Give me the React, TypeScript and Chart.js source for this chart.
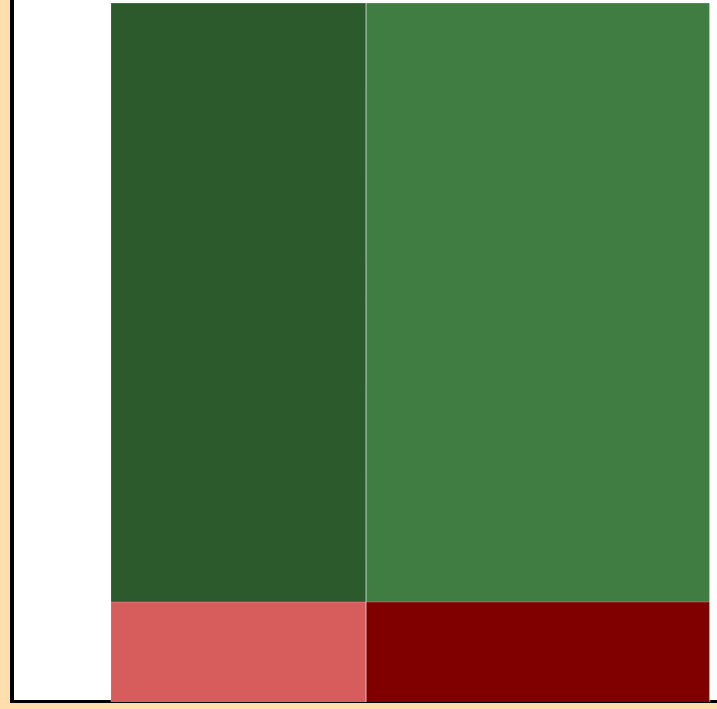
import { useEffect, useRef } from "react";
import { Chart, registerables } from "chart.js";

Chart.register(...registerables);

// Mekko-style chart: two columns, each split into an upper and a lower share
const columnWidths = [42.6, 57.4];
const upperShare = [85.7, 85.7];
const lowerShare = [14.3, 14.3];
const xAxisRange = [-16.5, 101.2];
const yAxisRange = [0, 100.43];

const upperColors = ["#2D5A2D", "#407D43"];
const lowerColors = ["#D75C5C", "#800000"];
const edgeColor = "rgba(255,255,255,0.22)";

export default function App() {
  const canvasRef = useRef<HTMLCanvasElement | null>(null);

  useEffect(() => {
    document.body.style.margin = "0";
    document.body.style.background = "#FFDEAD";
    const canvas = canvasRef.current;
    if (!canvas) return;

    const datasets: any[] = [];
    let x0 = 0;
    columnWidths.forEach((w, i) => {
      const x1 = x0 + w;
      const rect = (lo: number, hi: number, color: string) => ({
        type: "line",
        data: [
          { x: x0, y: lo },
          { x: x0, y: hi },
          { x: x1, y: hi },
          { x: x1, y: lo },
        ],
        backgroundColor: color,
        borderColor: edgeColor,
        borderWidth: 1,
        fill: { value: lo },
        pointRadius: 0,
        pointHoverRadius: 0,
        tension: 0,
      });
      datasets.push(rect(0, lowerShare[i], lowerColors[i]));
      datasets.push(rect(lowerShare[i], lowerShare[i] + upperShare[i], upperColors[i]));
      x0 = x1;
    });

    const chart = new Chart(canvas, {
      type: "line",
      data: { datasets },
      options: {
        animation: false,
        responsive: false,
        maintainAspectRatio: false,
        layout: { padding: { left: 2, top: 0, right: 0, bottom: 1 } },
        plugins: {
          legend: { display: false },
          tooltip: { enabled: false },
        },
        scales: {
          x: {
            type: "linear",
            min: xAxisRange[0],
            max: xAxisRange[1],
            ticks: { display: false },
            grid: { display: false, drawTicks: false },
            border: { display: true, color: "#000000", width: 4 },
          },
          y: {
            type: "linear",
            min: yAxisRange[0],
            max: yAxisRange[1],
            ticks: { display: false },
            grid: { display: false, drawTicks: false },
            border: { display: true, color: "#000000", width: 4 },
          },
        },
      },
    } as any);

    return () => chart.destroy();
  }, []);

  return (
    <div
      style={{
        marginLeft: 10,
        width: 707,
        height: 703,
        background: "#FFFFFF",
        position: "relative",
      }}
    >
      <canvas
        ref={canvasRef}
        width={707}
        height={703}
        style={{ display: "block", width: 707, height: 703 }}
      />
    </div>
  );
}
